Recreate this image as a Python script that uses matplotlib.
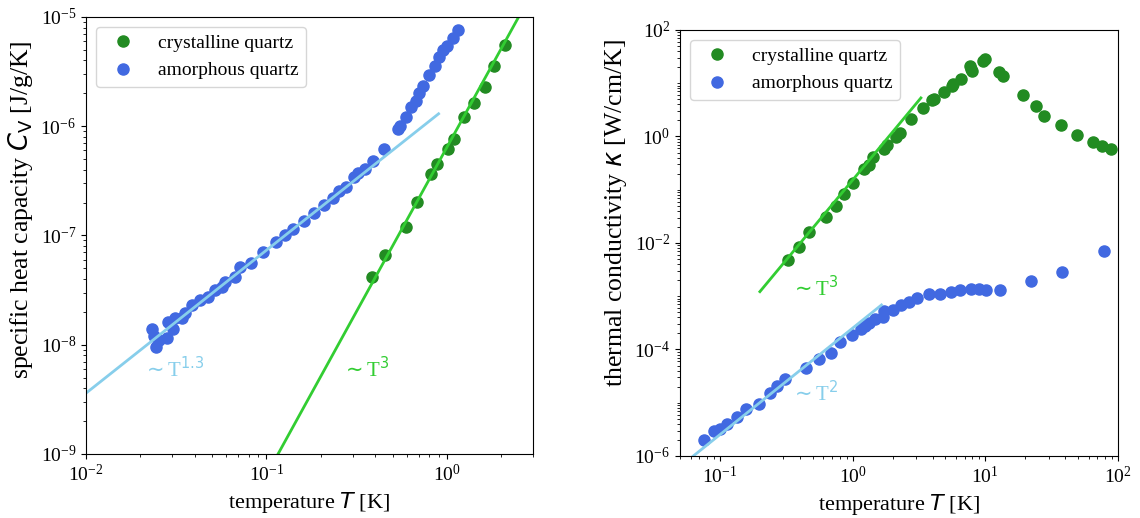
import numpy as np
import matplotlib
matplotlib.use("Agg")
import matplotlib.pyplot as plt
from matplotlib.ticker import LogLocator, NullFormatter

plt.rcParams['font.family'] = ['Liberation Serif', 'DejaVu Serif']
plt.rcParams['mathtext.fontset'] = 'dejavusans'

# specific heat, crystalline quartz
cv_cryst_T = [0.386, 0.457, 0.590, 0.682, 0.822, 0.882, 1.012, 1.10, 1.24, 1.413, 1.625, 1.816, 2.11]
cv_cryst = [4.21e-8, 6.61e-8, 1.205e-7, 2.02e-7, 3.66e-7, 4.50e-7, 6.19e-7, 7.60e-7, 1.22e-6,
            1.62e-6, 2.31e-6, 3.56e-6, 5.52e-6]

# specific heat, amorphous quartz
cv_amor_T = [0.0231, 0.0238, 0.0246, 0.0254, 0.0282, 0.0285, 0.0304, 0.0311, 0.0339, 0.0353,
             0.0385, 0.0428, 0.0475, 0.0517, 0.0564, 0.0588, 0.0668, 0.0712, 0.0818, 0.0954,
             0.1136, 0.1263, 0.1404, 0.1609, 0.1827, 0.2075, 0.2336, 0.2513, 0.2772, 0.3041,
             0.320, 0.350, 0.389, 0.4486, 0.535, 0.5466, 0.5955, 0.6329, 0.6788, 0.7053,
             0.7355, 0.8013, 0.865, 0.910, 0.9577, 1.0076, 1.078, 1.155]
cv_amor = [1.398e-8, 1.206e-8, 9.63e-9, 1.109e-8, 1.156e-8, 1.63e-8, 1.39e-8, 1.745e-8, 1.762e-8, 1.945e-8,
           2.29e-8, 2.58e-8, 2.76e-8, 3.18e-8, 3.41e-8, 3.79e-8, 4.21e-8, 5.11e-8, 5.61e-8, 7.0e-8,
           8.65e-8, 1.013e-7, 1.149e-7, 1.36e-7, 1.61e-7, 1.905e-7, 2.19e-7, 2.56e-7, 2.75e-7, 3.44e-7,
           3.76e-7, 4.07e-7, 4.81e-7, 6.24e-7, 9.45e-7, 1.006e-6, 1.208e-6, 1.502e-6, 1.704e-6, 1.995e-6,
           2.34e-6, 2.935e-6, 3.56e-6, 4.26e-6, 4.94e-6, 5.48e-6, 6.42e-6, 7.57e-6]

# power-law guides (end points)
cv_fit3_T = [0.1, 3.0]
cv_fit3 = [6.4e-10, 1.73e-5]
cv_fit13_T = [0.01, 0.9]
cv_fit13 = [3.6e-9, 1.30e-6]

# thermal conductivity, crystalline quartz
k_cryst_T = [0.328, 0.396, 0.471, 0.630, 0.745, 0.860, 1.014, 1.212, 1.325, 1.431, 1.731, 1.804,
             2.133, 2.29, 2.737, 3.366, 3.98, 4.095, 4.84, 5.58, 5.74, 6.59, 7.64, 7.8, 7.98,
             9.53, 9.98, 12.7, 13.7, 19.2, 24.1, 27.9, 36.9, 48.8, 64.9, 75.3, 88.9]
k_cryst = [4.81e-3, 8.55e-3, 1.64e-2, 3.05e-2, 5.05e-2, 8.26e-2, 0.1365, 0.244, 0.294, 0.410, 0.579, 0.698,
           0.975, 1.158, 2.15, 3.42, 4.75, 5.11, 6.83, 8.97, 9.66, 12.0, 21.3, 18.7, 16.7,
           26.5, 28.5, 16.0, 13.4, 5.9, 3.66, 2.45, 1.61, 1.09, 0.785, 0.649, 0.570]

# thermal conductivity, amorphous quartz
k_amor_T = [0.0756, 0.0899, 0.100, 0.1127, 0.1346, 0.158, 0.198, 0.2365, 0.2713, 0.309,
            0.447, 0.560, 0.682, 0.809, 0.984, 1.155, 1.234, 1.325, 1.467, 1.680,
            1.731, 2.03, 2.30, 2.67, 3.08, 3.75, 4.56, 5.51, 6.44, 7.74,
            9.03, 10.2, 13.0, 22.0, 37.8, 78.5]
k_amor = [1.99e-6, 2.94e-6, 3.16e-6, 3.98e-6, 5.46e-6, 7.52e-6, 9.33e-6, 1.54e-5, 2.06e-5, 2.75e-5,
          4.55e-5, 6.55e-5, 8.71e-5, 1.365e-4, 1.87e-4, 2.40e-4, 2.77e-4, 3.19e-4, 3.74e-4, 4.14e-4,
          5.30e-4, 5.52e-4, 6.86e-4, 7.71e-4, 9.16e-4, 1.09e-3, 1.09e-3, 1.19e-3, 1.30e-3, 1.355e-3,
          1.355e-3, 1.33e-3, 1.33e-3, 1.94e-3, 2.82e-3, 7.11e-3]

k_fit3_T = [0.2, 3.27]
k_fit3 = [1.22e-3, 5.3]
k_fit2_T = [0.05, 1.65]
k_fit2 = [6.3e-7, 6.86e-4]

fig = plt.figure(figsize=(11.4, 5.18), dpi=100)
ax1 = fig.add_axes([0.0754, 0.1236, 0.3921, 0.8436])
ax2 = fig.add_axes([0.5965, 0.1197, 0.3842, 0.8224])

ms = 8
ax1.plot(cv_cryst_T, cv_cryst, 'o', color='forestgreen', ms=ms, label='crystalline quartz')
ax1.plot(cv_amor_T, cv_amor, 'o', color='royalblue', ms=ms, label='amorphous quartz')
ax1.plot(cv_fit3_T, cv_fit3, color='limegreen', lw=2)
ax1.plot(cv_fit13_T, cv_fit13, color='skyblue', lw=2)
ax1.text(0.0205, 5.9e-9, r'$\sim$T$^{1.3}$', color='skyblue', fontsize=15, va='center')
ax1.text(0.258, 5.9e-9, r'$\sim$T$^{3}$', color='limegreen', fontsize=15, va='center')
ax1.set_xscale('log')
ax1.set_yscale('log')
ax1.set_xlim(0.01, 3)
ax1.set_ylim(1e-9, 1e-5)
ax1.set_xlabel(r'temperature $T$ [K]', fontsize=16)
ax1.set_ylabel(r'specific heat capacity $C_\mathrm{V}$ [J/g/K]', fontsize=18.5, y=0.56)
ax1.legend(loc='upper left', fontsize=14)

ax2.plot(k_cryst_T, k_cryst, 'o', color='forestgreen', ms=ms, label='crystalline quartz')
ax2.plot(k_amor_T, k_amor, 'o', color='royalblue', ms=ms, label='amorphous quartz')
ax2.plot(k_fit3_T, k_fit3, color='limegreen', lw=2)
ax2.plot(k_fit2_T, k_fit2, color='skyblue', lw=2)
ax2.text(0.335, 1.41e-3, r'$\sim$T$^{3}$', color='limegreen', fontsize=15, va='center')
ax2.text(0.335, 1.5e-5, r'$\sim$T$^{2}$', color='skyblue', fontsize=15, va='center')
ax2.set_xscale('log')
ax2.set_yscale('log')
ax2.set_xlim(0.05, 100)
ax2.set_ylim(1e-6, 1e2)
ax2.yaxis.set_major_locator(LogLocator(base=100.0))
ax2.yaxis.set_minor_locator(LogLocator(base=10.0, subs=np.arange(1, 10), numticks=50))
ax2.yaxis.set_minor_formatter(NullFormatter())
ax2.set_xlabel(r'temperature $T$ [K]', fontsize=16)
ax2.set_ylabel(r'thermal conductivity $\kappa$ [W/cm/K]', fontsize=18.5, y=0.57)
ax2.legend(loc='upper left', fontsize=14)

for ax in (ax1, ax2):
    ax.tick_params(labelsize=14)

fig.savefig('out.png', dpi=100)
